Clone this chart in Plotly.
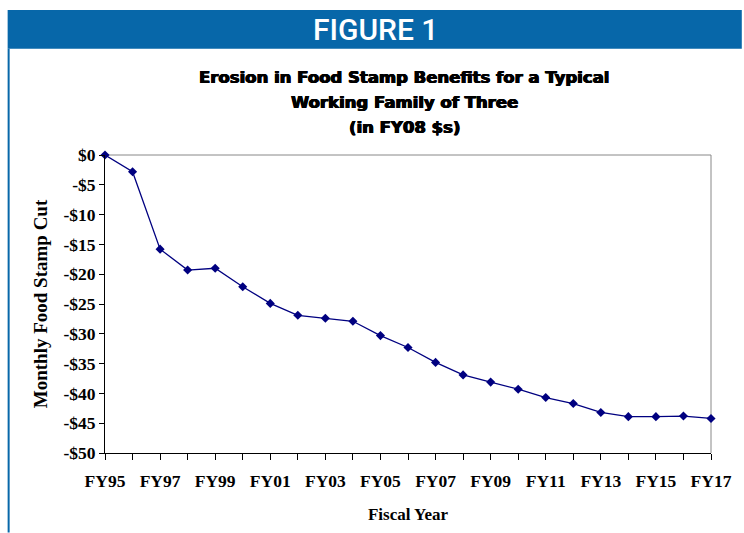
import plotly.graph_objects as go

years = ["FY95", "FY96", "FY97", "FY98", "FY99", "FY00", "FY01", "FY02", "FY03", "FY04",
         "FY05", "FY06", "FY07", "FY08", "FY09", "FY10", "FY11", "FY12", "FY13", "FY14",
         "FY15", "FY16", "FY17"]
cut = [0.0, -2.8, -15.8, -19.3, -19.0, -22.1, -24.9, -26.9, -27.4, -27.9,
       -30.3, -32.3, -34.8, -36.9, -38.1, -39.3, -40.7, -41.7, -43.2, -43.9,
       -43.9, -43.8, -44.2]
y_ticks = [0, -5, -10, -15, -20, -25, -30, -35, -40, -45, -50]
y_labels = ["$0", "-$5", "-$10", "-$15", "-$20", "-$25", "-$30", "-$35", "-$40", "-$45", "-$50"]
x_labels = [y if i % 2 == 0 else "" for i, y in enumerate(years)]
title_lines = ["Erosion in Food Stamp Benefits for a Typical",
               "Working Family of Three",
               "(in FY08 $s)"]

NAVY = "#000080"
BLUE = "#0767A9"
SERIF = "Liberation Serif, Times New Roman, serif"

W, H = 744, 533
L, R, T, B = 105, 715, 155, 455  # plot area in pixels


def px(x):
    return (x - L) / (R - L)


def py(y):
    return (B - y) / (B - T)


fig = go.Figure()
fig.add_trace(go.Scatter(
    x=years, y=cut, mode="lines+markers",
    line=dict(color=NAVY, width=1.3),
    marker=dict(symbol="diamond", size=7, color=NAVY),
    cliponaxis=False, showlegend=False,
))

title_font = dict(family="DejaVu Sans, sans-serif", size=16.5, color="black", weight="bold",
                  shadow="0.6px 0 0 black, -0.6px 0 0 black, 0 0.4px 0 black")
annotations = [
    dict(text="FIGURE 1", xref="paper", yref="paper", x=px(377), y=py(28.5),
         xanchor="center", yanchor="middle", showarrow=False,
         font=dict(family="Roboto, sans-serif", size=30, color="white", weight=500)),
]
for line, yc in zip(title_lines, [77, 102, 127]):
    annotations.append(dict(text=line, xref="paper", yref="paper", x=px(406), y=py(yc),
                            xanchor="center", yanchor="middle", showarrow=False,
                            font=title_font))

fig.update_layout(
    width=W, height=H,
    margin=dict(l=L, r=W - R, t=T, b=H - B, pad=0),
    paper_bgcolor="white", plot_bgcolor="white",
    xaxis=dict(
        type="category", range=[0, 22], tickvals=years, ticktext=x_labels,
        ticks="outside", ticklen=6, tickcolor="black", showgrid=False,
        showline=True, linecolor="black", linewidth=1, zeroline=False,
        ticklabelstandoff=6,
        tickfont=dict(family=SERIF, size=17.5, color="black", weight="bold"),
        title=dict(text="Fiscal Year", standoff=18,
                   font=dict(family=SERIF, size=17, color="black", weight="bold")),
    ),
    yaxis=dict(
        range=[-50, 0], tickvals=y_ticks, ticktext=y_labels,
        ticks="outside", ticklen=5, tickcolor="black", showgrid=False,
        showline=True, linecolor="black", linewidth=1, zeroline=False,
        tickfont=dict(family=SERIF, size=17.5, color="black", weight="bold"),
        title=dict(text="Monthly Food Stamp Cut", standoff=10,
                   font=dict(family=SERIF, size=19, color="black", weight="bold")),
    ),
    shapes=[
        dict(type="rect", xref="paper", yref="paper", x0=px(7), x1=px(W + 2),
             y0=py(48), y1=py(9), fillcolor=BLUE, line=dict(width=0), layer="below"),
        dict(type="line", xref="paper", yref="paper", x0=px(8), x1=px(8),
             y0=py(H + 2), y1=py(48), line=dict(color=BLUE, width=2)),
        dict(type="line", xref="paper", yref="paper", x0=0, x1=1, y0=1, y1=1,
             line=dict(color="#888888", width=1), layer="below"),
        dict(type="line", xref="paper", yref="paper", x0=1, x1=1, y0=0, y1=1,
             line=dict(color="#888888", width=1), layer="below"),
    ],
    annotations=annotations,
)

fig.write_html("out.html", config={"displayModeBar": False},
               post_script="document.body.style.margin='0';")
